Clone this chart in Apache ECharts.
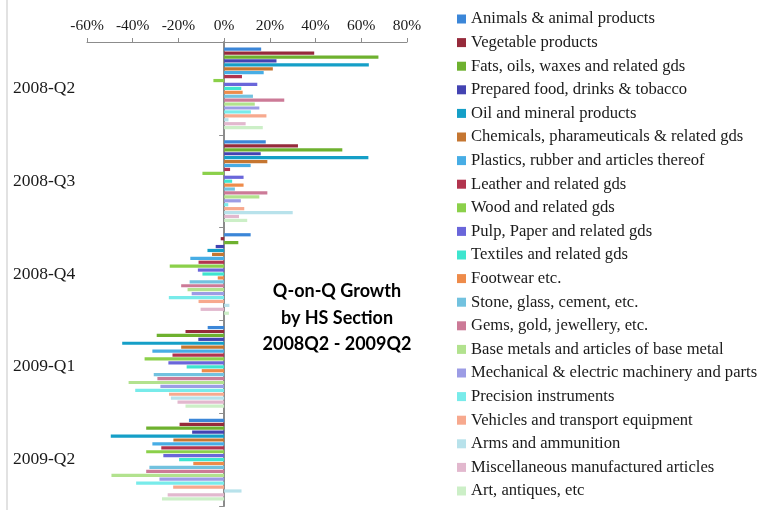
<!DOCTYPE html>
<html>
<head>
<meta charset="utf-8">
<script src="https://cdn.jsdelivr.net/npm/echarts@6/dist/echarts.min.js"></script>
<style>
  html, body { margin: 0; padding: 0; background: #fff; }
  #chart { width: 769px; height: 510px; }
</style>
</head>
<body>
<div id="chart"></div>
<script>
// Quarters, top to bottom
const quarters = ['2008-Q2', '2008-Q3', '2008-Q4', '2009-Q1', '2009-Q2'];

// HS sections, in legend / bar order
const sections = [
  'Animals & animal products',
  'Vegetable products',
  'Fats, oils, waxes and related gds',
  'Prepared food, drinks & tobacco',
  'Oil and mineral products',
  'Chemicals, pharameuticals & related gds',
  'Plastics, rubber and articles thereof',
  'Leather and related gds',
  'Wood and related gds',
  'Pulp, Paper and related gds',
  'Textiles and related gds',
  'Footwear etc.',
  'Stone, glass, cement, etc.',
  'Gems, gold, jewellery, etc.',
  'Base metals and articles of base metal',
  'Mechanical & electric machinery and parts',
  'Precision instruments',
  'Vehicles and transport equipment',
  'Arms and ammunition',
  'Miscellaneous manufactured articles',
  'Art, antiques, etc'
];

// Quarter-on-quarter growth (%) per section, one list per quarter
const growth2008Q2 = [16.2, 39.4, 67.5, 22.9, 63.3, 21.3, 17.3, 7.8, -4.7, 14.5, 7.5, 8.1, 12.6, 26.3, 13.4, 15.4, 11.7, 18.5, 1.9, 9.4, 16.9];
const growth2008Q3 = [18.2, 32.3, 51.7, 16.0, 63.1, 18.9, 11.6, 2.6, -9.5, 8.5, 3.5, 8.5, 4.7, 18.9, 15.4, 7.3, 1.8, 8.8, 30.0, 6.5, 10.1];
const growth2008Q4 = [11.6, -1.5, 6.2, -3.7, -7.3, -5.3, -14.8, -11.2, -23.8, -11.5, -9.5, -2.8, -15.1, -18.8, -16.0, -14.2, -24.2, -11.2, 2.3, -10.3, 2.1];
const growth2009Q1 = [-7.2, -16.9, -29.5, -11.3, -44.6, -18.8, -31.4, -22.6, -34.8, -24.4, -16.4, -9.8, -30.8, -29.2, -41.8, -27.9, -38.9, -24.1, -23.3, -20.4, -16.9];
const growth2009Q2 = [-15.4, -19.5, -34.1, -14.0, -49.6, -22.2, -31.4, -27.5, -34.1, -26.6, -19.7, -13.5, -32.7, -34.1, -49.3, -28.3, -38.5, -22.3, 7.6, -24.7, -27.2];

// Value axis ticks
const axisMin = -60;
const axisMax = 80;
const axisStep = 20;

// Section colours
const palette = [
  '#3b86d8', '#962a3b', '#6eb12f', '#4343b2', '#159fc7', '#c57631', '#47ade5',
  '#b2344e', '#8bd04a', '#6a66da', '#3ee5cf', '#ee8b4a', '#72c2df', '#cc7a97',
  '#b2e28e', '#9c9ce5', '#78ebea', '#f7a98e', '#b8e2eb', '#e2b8ce', '#ccefc7'
];

const byQuarter = [growth2008Q2, growth2008Q3, growth2008Q4, growth2009Q1, growth2009Q2];

const serif = '"Liberation Serif", "DejaVu Serif", serif';

const series = sections.map((name, i) => ({
  name: name,
  type: 'bar',
  yAxisIndex: 0,
  data: byQuarter.map(q => q[i]),
  itemStyle: { color: palette[i] },
  barCategoryGap: '12%',
  barGap: '22%',
  emphasis: { disabled: true }
}));

const chart = echarts.init(document.getElementById('chart'), null, { renderer: 'canvas' });

chart.setOption({
  animation: false,
  color: palette,
  grid: { left: 87, top: 42, width: 320, height: 464, containLabel: false },
  xAxis: {
    type: 'value',
    position: 'top',
    min: axisMin,
    max: axisMax,
    interval: axisStep,
    axisLine: { show: true, onZero: false, lineStyle: { color: '#8c8c8c', width: 1 } },
    axisTick: { show: true, length: 4, lineStyle: { color: '#8c8c8c' } },
    splitLine: { show: false },
    axisLabel: {
      formatter: '{value}%',
      fontFamily: serif,
      fontSize: 15.5,
      color: '#1a1a1a',
      margin: 8
    }
  },
  yAxis: [
    {
      type: 'category',
      data: quarters,
      inverse: true,
      position: 'left',
      axisLine: { show: false, onZero: false },
      axisTick: { show: false },
      axisLabel: {
        align: 'left',
        margin: 74,
        fontFamily: serif,
        fontSize: 17.5,
        color: '#1a1a1a'
      }
    },
    {
      // zero line with section boundary ticks
      type: 'category',
      data: quarters,
      inverse: true,
      position: 'left',
      axisLine: { show: true, onZero: true, lineStyle: { color: '#8c8c8c', width: 2 } },
      axisTick: { show: true, length: 5, lineStyle: { color: '#8c8c8c' } },
      axisLabel: { show: false }
    }
  ],
  legend: {
    orient: 'vertical',
    left: 457,
    top: 10.5,
    padding: 0,
    icon: 'rect',
    itemWidth: 9,
    itemHeight: 9,
    itemGap: 6.6,
    selectedMode: false,
    textStyle: {
      fontFamily: serif,
      fontSize: 16.6,
      lineHeight: 17,
      color: '#1a1a1a',
      padding: [0, 0, 0, 0]
    },
    data: sections
  },
  graphic: [
    {
      type: 'line',
      shape: { x1: 7, y1: 0, x2: 7, y2: 510 },
      style: { stroke: '#d9d9d9', lineWidth: 1.5 },
      silent: true
    },
    {
      type: 'text',
      x: 337,
      y: 278,
      silent: true,
      style: {
        text: 'Q-on-Q Growth\nby HS Section\n2008Q2 - 2009Q2',
        align: 'center',
        font: 'bold 18px Lato, "Open Sans", sans-serif',
        lineHeight: 26.5,
        fill: '#000'
      }
    }
  ],
  series: series
});
</script>
</body>
</html>
